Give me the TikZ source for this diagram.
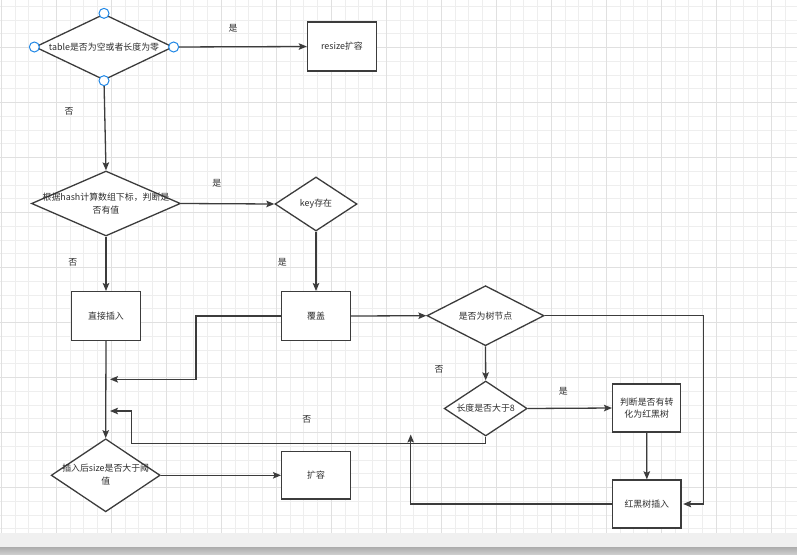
\documentclass[tikz,border=0pt]{standalone}
\usepackage{fontspec}
\setmainfont{Noto Sans CJK SC}
\usetikzlibrary{shapes.geometric,arrows.meta}
\definecolor{ln}{HTML}{3C3C3C}
\definecolor{tx}{HTML}{2E2E2E}
\definecolor{minorg}{HTML}{EEEEEE}
\definecolor{majorg}{HTML}{E0E0E0}
\definecolor{handle}{HTML}{2288E6}
\tikzset{
  dia/.style={diamond, draw=ln, line width=1.3pt, fill=white, inner sep=0pt},
  boxn/.style={rectangle, draw=ln, line width=1.4pt, fill=white, inner sep=0pt},
  txt/.style={text=tx, font=\fontsize{8.9}{12.4}\selectfont, align=center, inner sep=0pt},
  lbl/.style={text=tx, font=\fontsize{8.9}{10}\selectfont, inner sep=0pt},
  arr/.style={draw=ln, line width=1.3pt, -{Stealth[length=8pt,width=6.5pt,inset=1.5pt]}},
  hdl/.style={circle, draw=handle, line width=1pt, fill=white, minimum size=10pt, inner sep=0pt},
}
\begin{document}
\begin{tikzpicture}[x=1pt,y=-1pt]
\useasboundingbox (0,0) rectangle (797,554);
\fill[white] (0,0) rectangle (797,554);
% grid
\foreach \i in {0,...,57} \draw[minorg, line width=0.9pt] ({1.3+13.75*\i},0) -- ({1.3+13.75*\i},533);
\foreach \i in {0,...,38} \draw[minorg, line width=0.9pt] (0,{6.3+13.75*\i}) -- (797,{6.3+13.75*\i});
\foreach \i in {0,...,14} \draw[majorg, line width=1pt] ({1.3+55*\i},0) -- ({1.3+55*\i},533);
\foreach \i in {0,...,8} \draw[majorg, line width=1pt] (0,{47.3+55*\i}) -- (797,{47.3+55*\i});
% bottom band
\fill[gray!12] (0,533) rectangle (797,547);
\shade[top color=gray!65, bottom color=gray!40] (0,547) rectangle (797,554);

% nodes
\node[dia, minimum width=138pt, minimum height=66pt] (d1) at (104,47) {};
\node[txt] (d1t) at (d1.center) {table是否为空或者长度为零};
\node[boxn, minimum width=69pt, minimum height=49pt] (r1) at (342,46.5) {};
\node[txt] (r1t) at (r1.center) {resize扩容};

\node[dia, minimum width=149pt, minimum height=65pt] (d2) at (106,203.5) {};
\node[txt] (d2t) at (d2.center) {根据hash计算数组下标，判断是\\否有值};

\node[dia, minimum width=82pt, minimum height=54pt] (d3) at (316,204) {};
\node[txt] (d3t) at (d3.center) {key存在};

\node[boxn, minimum width=68.6pt, minimum height=48.6pt] (b1) at (106,316) {};
\node[txt] (b1t) at (b1.center) {直接插入};

\node[boxn, minimum width=68.6pt, minimum height=48.6pt] (b2) at (316,316) {};
\node[txt] (b2t) at (b2.center) {覆盖};

\node[dia, minimum width=117pt, minimum height=60pt] (d4) at (485.5,315.7) {};
\node[txt] (d4t) at (d4.center) {是否为树节点};

\node[dia, minimum width=83pt, minimum height=55pt] (d6) at (485.7,408.5) {};
\node[txt] (d6t) at (d6.center) {长度是否大于8};

\node[boxn, minimum width=68pt, minimum height=47.7pt] (b3) at (646.7,408) {};
\node[txt] (b3t) at (b3.center) {判断是否有转\\化为红黑树};

\node[boxn, minimum width=68.3pt, minimum height=48pt] (b4) at (646.8,504) {};
\node[txt] (b4t) at (b4.center) {红黑树插入};

\node[dia, minimum width=109pt, minimum height=73pt] (d5) at (105.7,475.3) {};
\node[txt] (d5t) at ([yshift=0.5pt]d5.center) {插入后size是否大于阈\\值};

\node[boxn, minimum width=68.6pt, minimum height=47.3pt] (b5) at (316,475.3) {};
\node[txt] (b5t) at (b5.center) {扩容};

% free ends
\coordinate (c1) at (110,379.3);
\coordinate (c2) at (110,411);
\coordinate (c3) at (410.7,434.5);

% connectors
\draw[arr] (d1.east) -- (r1.west);
\draw[arr] (d1.south) -- (d2.north);
\draw[arr] (d2.east) -- (d3.west);
\draw[arr] (d2.south) -- (b1.north);
\draw[arr] (d3.south) -- (b2.north);
\draw[arr] (b2.east) -- (d4.west);
\draw[arr] (b2.west) -- ++(-85,0) |- (c1);
\draw[arr] (b1.south) -- (d5.north);
\draw[arr] (d4.south) -- (d6.north);
\draw[arr] (d6.east) -- (b3.west);
\draw[arr] (b3.south) -- (b4.north);
\draw[arr] (d4.east) -- ++(158.7,0) |- ([xshift=1.5pt]b4.east);
\draw[arr] (d6.south) |- (131.7,443.3) |- (c2);
\draw[arr] (b4.west) -| (c3);
\draw[arr] (d5.east) -- (b5.west);

% labels
\node[lbl] (l1) at (233,28) {是};
\node[lbl] (l2) at (69,111) {否};
\node[lbl] (l3) at (216.7,183.3) {是};
\node[lbl] (l4) at (72.7,262.3) {否};
\node[lbl] (l5) at (282.3,262.3) {是};
\node[lbl] (l6) at (439,369) {否};
\node[lbl] (l7) at (563.3,391.7) {是};
\node[lbl] (l8) at (306.7,419.3) {否};

% selection handles on first diamond
\node[hdl] (h1) at (d1.north) {};
\node[hdl] (h2) at (d1.south) {};
\node[hdl] (h3) at (d1.west) {};
\node[hdl] (h4) at (d1.east) {};
\end{tikzpicture}
\end{document}
